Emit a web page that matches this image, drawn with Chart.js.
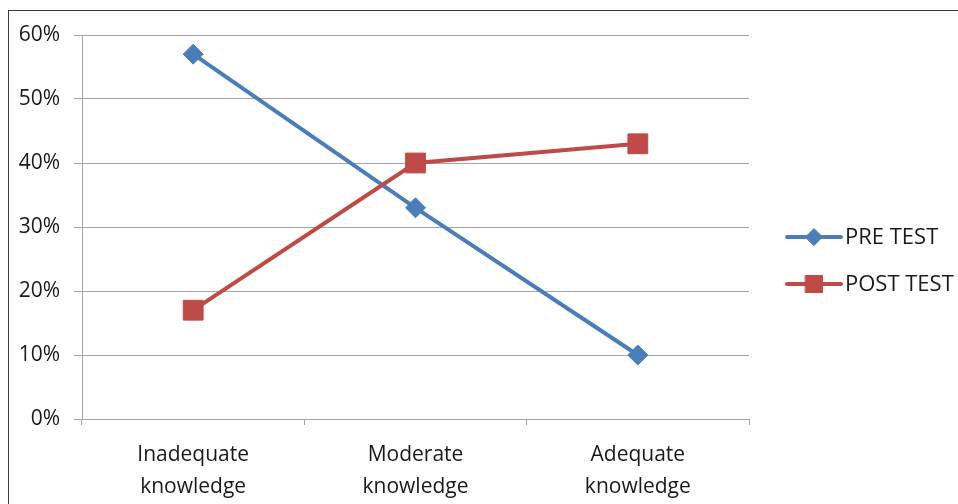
<!DOCTYPE html>
<html>
<head>
<meta charset="utf-8">
<script src="https://cdn.jsdelivr.net/npm/chart.js@4.4.0/dist/chart.umd.min.js"></script>
<style>
  body { margin: 0; background: #fff; }
  #wrap { position: relative; width: 958px; height: 504px; overflow: hidden; }
  #frame { position: absolute; left: 8px; top: 10px; width: 1000px; height: 600px; border-left: 1px solid #3a3a3a; border-top: 1px solid #3a3a3a; }
  canvas { position: absolute; left: 0; top: 0; }
</style>
</head>
<body>
<div id="wrap">
  <div id="frame"></div>
  <canvas id="chart" width="958" height="504"></canvas>
</div>
<script>
// data (percent)
const categories = [["Inadequate", "knowledge"], ["Moderate", "knowledge"], ["Adequate", "knowledge"]];
const preTest = [57, 33, 10];
const postTest = [17, 40, 43];
const yTicks = [0, 10, 20, 30, 40, 50, 60];

const FONT = "'Open Sans', 'Liberation Sans', sans-serif";
const BLUE = "#4a7ebb";
const RED = "#be4b48";

// legend drawn as line + marker like the spreadsheet legend
const lineLegend = {
  id: "lineLegend",
  afterDraw(chart) {
    const ctx = chart.ctx;
    const x0 = 787, x1 = 841;
    const ys = [237, 284];
    chart.data.datasets.forEach((ds, i) => {
      const y = ys[i];
      ctx.save();
      ctx.strokeStyle = ds.borderColor;
      ctx.lineWidth = 4;
      ctx.lineCap = "round";
      ctx.beginPath();
      ctx.moveTo(x0, y);
      ctx.lineTo(x1, y);
      ctx.stroke();
      ctx.fillStyle = ds.backgroundColor;
      ctx.strokeStyle = ds.backgroundColor;
      ctx.lineWidth = 1;
      Chart.helpers.drawPoint(ctx, {
        pointStyle: ds.pointStyle,
        radius: ds.pointStyle === "rect" ? 12 : 8.5,
        borderWidth: 1
      }, (x0 + x1) / 2, y);
      ctx.fillStyle = "#1a1a1a";
      ctx.font = "22px " + FONT;
      ctx.textBaseline = "middle";
      ctx.textAlign = "left";
      ctx.fillText(ds.label, x1 + 4, y + 1);
      ctx.restore();
    });
  }
};

new Chart(document.getElementById("chart"), {
  type: "line",
  data: {
    labels: categories,
    datasets: [
      {
        label: "PRE TEST",
        data: preTest,
        borderColor: BLUE,
        backgroundColor: BLUE,
        borderWidth: 4,
        pointStyle: "rectRot",
        pointRadius: 10,
        pointBorderWidth: 1,
        order: 1
      },
      {
        label: "POST TEST",
        data: postTest,
        borderColor: RED,
        backgroundColor: RED,
        borderWidth: 4,
        pointStyle: "rect",
        pointRadius: 14,
        pointBorderWidth: 1,
        order: 0
      }
    ]
  },
  options: {
    responsive: false,
    animation: false,
    devicePixelRatio: 1,
    layout: { padding: { top: 35, right: 209, bottom: 0, left: 0 } },
    plugins: {
      legend: { display: false },
      tooltip: { enabled: false }
    },
    scales: {
      x: {
        offset: true,
        grid: { offset: true, drawOnChartArea: false, drawTicks: true, tickLength: 6, color: "#a6a6a6" },
        border: { color: "#a6a6a6" },
        ticks: { color: "#1a1a1a", font: { family: FONT, size: 21, lineHeight: 1.52 }, padding: 14, maxRotation: 0 },
        afterFit(scale) { scale.height = 85; }
      },
      y: {
        min: 0,
        max: 60,
        afterBuildTicks(scale) { scale.ticks = yTicks.map(v => ({ value: v })); },
        grid: { color: "#a6a6a6", tickLength: 8 },
        border: { color: "#a6a6a6" },
        ticks: {
          color: "#1a1a1a",
          font: { family: FONT, size: 21 },
          padding: 14,
          callback: v => v + "%"
        },
        afterFit(scale) { scale.width = 82; }
      }
    }
  },
  plugins: [lineLegend]
});
</script>
</body>
</html>
